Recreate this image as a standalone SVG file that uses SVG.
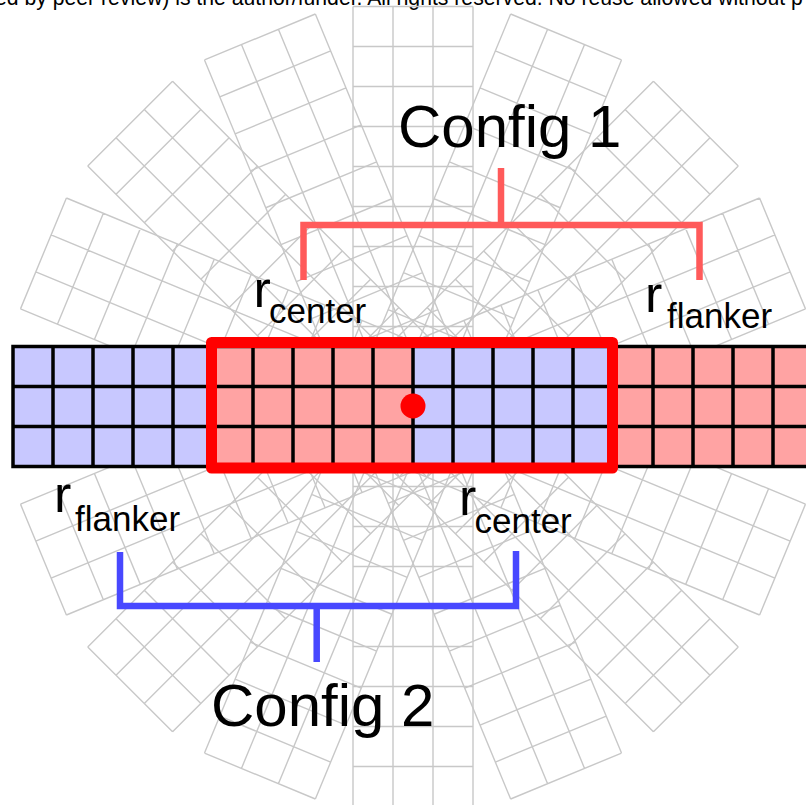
<svg xmlns="http://www.w3.org/2000/svg" xmlns:xlink="http://www.w3.org/1999/xlink" width="806" height="805" viewBox="0 0 806 805">
<style>
.grid{fill:none;stroke:#c8c8c8;stroke-width:1.4}
.blk{fill:none;stroke:#000;stroke-width:3.5;stroke-linecap:square}
.blue{fill:#c8c8ff}
.pink{fill:#ffa3a3}
.lbl{font-family:"Liberation Sans",Arial,sans-serif;fill:#000}
.big{font-size:60px}
.r{font-size:52px}
.sub{font-size:35px}
.c1{fill:none;stroke:#ff5a5a;stroke-width:6.5;stroke-linejoin:miter;stroke-linecap:butt}
.c2{fill:none;stroke:#4848ff;stroke-width:6.5;stroke-linejoin:miter;stroke-linecap:butt}
</style>
<defs>
<path id="strip" d="M-400,-60H400M-400,-20H400M-400,20H400M-400,60H400
M-400,-60V60M-360,-60V60M-320,-60V60M-280,-60V60M-240,-60V60M-200,-60V60M-160,-60V60M-120,-60V60M-80,-60V60M-40,-60V60M0,-60V60M40,-60V60M80,-60V60M120,-60V60M160,-60V60M200,-60V60M240,-60V60M280,-60V60M320,-60V60M360,-60V60M400,-60V60"/>
</defs>
<rect width="806" height="805" fill="#fff"/>
<text class="lbl" x="-5" y="5" font-size="21.2">ed by peer review) is the author/funder. All rights reserved. No reuse allowed without p</text>
<g id="radial-strips" class="grid">
<use xlink:href="#strip" transform="translate(413,406.5) rotate(22.5)"/>
<use xlink:href="#strip" transform="translate(413,406.5) rotate(45)"/>
<use xlink:href="#strip" transform="translate(413,406.5) rotate(67.5)"/>
<use xlink:href="#strip" transform="translate(413,406.5) rotate(90)"/>
<use xlink:href="#strip" transform="translate(413,406.5) rotate(112.5)"/>
<use xlink:href="#strip" transform="translate(413,406.5) rotate(135)"/>
<use xlink:href="#strip" transform="translate(413,406.5) rotate(157.5)"/>
</g>
<g id="target-strip">
<rect class="blue" x="13" y="346.5" width="200" height="120"/>
<rect class="pink" x="213" y="346.5" width="200" height="120"/>
<rect class="blue" x="413" y="346.5" width="200" height="120"/>
<rect class="pink" x="613" y="346.5" width="200" height="120"/>
<path class="blk" d="M13,346.5H813M13,386.5H813M13,426.5H813M13,466.5H813
M13,346.5V466.5M53,346.5V466.5M93,346.5V466.5M133,346.5V466.5M173,346.5V466.5M213,346.5V466.5M253,346.5V466.5M293,346.5V466.5M333,346.5V466.5M373,346.5V466.5M413,346.5V466.5M453,346.5V466.5M493,346.5V466.5M533,346.5V466.5M573,346.5V466.5M613,346.5V466.5M653,346.5V466.5M693,346.5V466.5M733,346.5V466.5M773,346.5V466.5"/>
</g>
<g id="center-window">
<rect x="211.5" y="342.5" width="401" height="125.5" fill="none" stroke="#ff0000" stroke-width="11" stroke-linejoin="round"/>
<circle cx="413" cy="406" r="12.5" fill="#ff0000"/>
</g>
<g id="connectors">
<path class="c1" d="M303.5,280V225H699.5V280M501,225V168"/>
<path class="c2" d="M120,552V606H516V551M316.7,606V662"/>
</g>
<g id="config1">
<text class="lbl big" x="398" y="147">Config 1</text>
<text class="lbl"><tspan class="r" x="253.5" y="307">r</tspan><tspan class="sub" x="269" y="323">center</tspan></text>
<text class="lbl"><tspan class="r" x="645" y="312">r</tspan><tspan class="sub" x="667" y="328">flanker</tspan></text>
</g>
<g id="config2">
<text class="lbl big" x="211" y="726">Config 2</text>
<text class="lbl"><tspan class="r" x="54" y="512">r</tspan><tspan class="sub" x="75" y="531">flanker</tspan></text>
<text class="lbl"><tspan class="r" x="459" y="515">r</tspan><tspan class="sub" x="474.5" y="533">center</tspan></text>
</g>
</svg>
